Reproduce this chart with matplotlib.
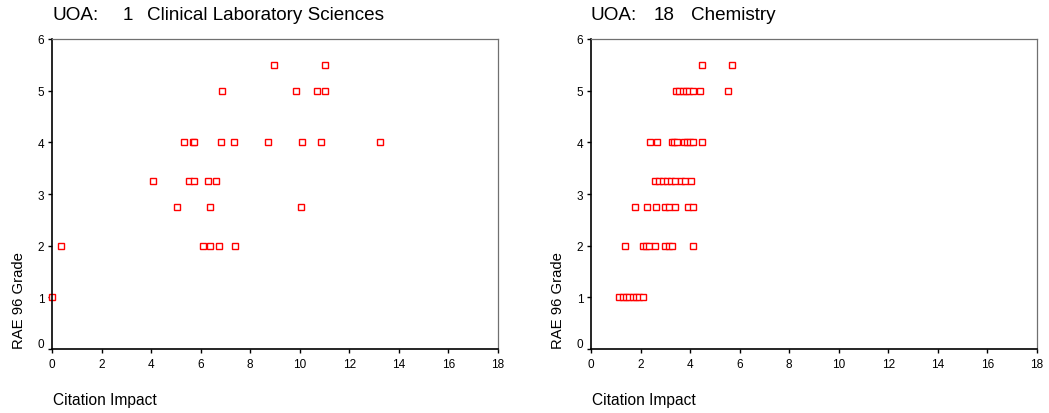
import matplotlib
matplotlib.use("Agg")
import matplotlib.pyplot as plt
from matplotlib.transforms import ScaledTranslation

plt.rcParams['font.family'] = ['Liberation Sans', 'DejaVu Sans']

# Panel 1: Clinical Laboratory Sciences
uoa1 = "1"
name1 = "Clinical Laboratory Sciences"
x1 = [0.0, 0.37,
      4.08, 5.54, 5.73, 6.28, 6.63,
      5.03, 6.36, 10.03,
      5.34, 5.69, 5.73, 6.83, 7.34, 8.70, 10.10, 10.87, 13.23,
      6.10, 6.38, 6.72, 7.39,
      6.88, 9.83, 10.71, 11.00,
      8.97, 11.00]
y1 = [1, 2,
      3.25, 3.25, 3.25, 3.25, 3.25,
      2.75, 2.75, 2.75,
      4, 4, 4, 4, 4, 4, 4, 4, 4,
      2, 2, 2, 2,
      5, 5, 5, 5,
      5.5, 5.5]

# Panel 2: Chemistry
uoa2 = "18"
name2 = "Chemistry"
x2 = [1.14, 1.28, 1.41, 1.54, 1.68, 1.81, 1.95, 2.08,
      1.36, 2.08, 2.22, 2.35, 2.59, 3.00, 3.13, 3.27, 4.10,
      1.77, 2.26, 2.61, 3.00, 3.13, 3.37, 3.91, 4.10,
      2.58, 2.74, 2.90, 3.06, 3.23, 3.39, 3.62, 3.79, 4.04,
      2.38, 2.65, 3.25, 3.36, 3.48, 3.75, 3.86, 3.99, 4.12, 4.46,
      3.43, 3.56, 3.70, 3.83, 3.96, 4.12, 4.40, 5.54,
      4.46, 5.69]
y2 = [1]*8 + [2]*9 + [2.75]*8 + [3.25]*9 + [4]*10 + [5]*8 + [5.5]*2

xticks = [0, 2, 4, 6, 8, 10, 12, 14, 16, 18]
yticks = [0, 1, 2, 3, 4, 5, 6]
xlabel = "Citation Impact"
ylabel = "RAE 96 Grade"

fig = plt.figure(figsize=(10.49, 4.14), dpi=100)
W, H = 1049, 414

def panel(left_px, right_px, xs, ys, uoa, uoa_dx, name, name_dx):
    top_px, bot_px = 40, 350
    ax = fig.add_axes([left_px / W, (H - bot_px) / H, (right_px - left_px) / W, (bot_px - top_px) / H])
    ax.plot(xs, ys, linestyle='none', marker='s', markersize=4.2,
            markerfacecolor='white', markeredgecolor='#ff0000', markeredgewidth=1.0, clip_on=False)
    ax.set_xlim(0, 18)
    ax.set_ylim(0, 6)
    ax.set_xticks(xticks)
    ax.set_yticks(yticks)
    ax.tick_params(axis='both', labelsize=8.5, length=3, width=1, direction='out', colors='black')
    ax.tick_params(axis='x', pad=3.5)
    ax.tick_params(axis='y', pad=2.5)
    # the "0" label sits slightly above the x axis
    lbl0 = ax.get_yticklabels()[0]
    lbl0.set_transform(lbl0.get_transform() + ScaledTranslation(0, 5 / 72, fig.dpi_scale_trans))
    for s in ('left', 'bottom'):
        ax.spines[s].set_color('black')
        ax.spines[s].set_linewidth(1.2)
    for s in ('top', 'right'):
        ax.spines[s].set_color('#707070')
        ax.spines[s].set_linewidth(0.9)
    ty = (H - 15) / H
    fig.text(left_px / W, ty, "UOA:", fontsize=13.6, ha='left', va='center')
    fig.text((left_px + uoa_dx) / W, ty, uoa, fontsize=13.6, ha='left', va='center')
    fig.text((left_px + name_dx) / W, ty, name, fontsize=13.6, ha='left', va='center')
    fig.text((left_px + 1) / W, (H - 401) / H, xlabel, fontsize=11.2, ha='left', va='center')
    fig.text((left_px - 33) / W, (H - 349) / H, ylabel, fontsize=10.7, rotation=90, ha='center', va='bottom')
    return ax

panel(52, 498, x1, y1, uoa1, 71, name1, 95)
panel(591, 1037, x2, y2, uoa2, 63, name2, 100)

fig.savefig("out.png", dpi=100)
